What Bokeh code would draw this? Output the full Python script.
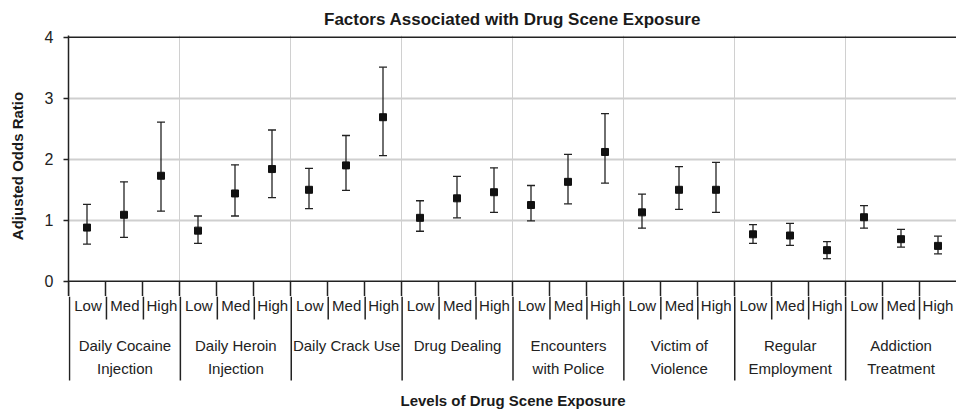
from bokeh.plotting import figure
from bokeh.models import Range1d, FixedTicker, Grid, Span, ColumnDataSource, Whisker, TeeHead
from bokeh.layouts import column
from bokeh.core.properties import value
from bokeh.embed import file_html
from bokeh.resources import INLINE

# ---------------- data ----------------
groups_line1 = ["Daily Cocaine", "Daily Heroin", "Daily Crack Use", "Drug Dealing",
                "Encounters", "Victim of", "Regular", "Addiction"]
groups_line2 = ["Injection", "Injection", "", "", "with Police", "Violence",
                "Employment", "Treatment"]
levels = ["Low", "Med", "High"]

odds = [0.88, 1.09, 1.73,  0.83, 1.44, 1.84,  1.50, 1.90, 2.69,  1.04, 1.36, 1.46,
        1.25, 1.63, 2.12,  1.13, 1.50, 1.50,  0.77, 0.75, 0.51,  1.05, 0.69, 0.58]
upper = [1.26, 1.63, 2.61,  1.07, 1.91, 2.48,  1.85, 2.39, 3.51,  1.32, 1.72, 1.86,
         1.57, 2.08, 2.75,  1.43, 1.88, 1.95,  0.93, 0.95, 0.65,  1.24, 0.85, 0.74]
lower = [0.61, 0.72, 1.15,  0.62, 1.07, 1.37,  1.19, 1.49, 2.06,  0.82, 1.04, 1.13,
         0.99, 1.27, 1.61,  0.87, 1.18, 1.13,  0.62, 0.59, 0.37,  0.87, 0.56, 0.45]
y_ticks = [0, 1, 2, 3, 4]

FONT = "Liberation Sans"
DARK = "#222222"
TXT = "#222222"

n_lv = len(levels)
n_grp = len(groups_line1)
n_cat = n_grp * n_lv
xs = [i + 0.5 for i in range(n_cat)]
sub_x = [i for i in range(n_cat) if i % n_lv != 0]
grp_x = list(range(0, n_cat, n_lv))
gx = [g * n_lv + n_lv / 2 for g in range(n_grp)]

W = 956
LEFT = 68
TOP_BORDER = 35
FRAME_H = 261
Y_LO, Y_HI = -0.25, 4.03
TOP_H = TOP_BORDER + FRAME_H
BOT_H = 412 - TOP_H

# ---------------- main plot ----------------
p = figure(width=W, height=TOP_H, x_range=Range1d(0, n_cat), y_range=Range1d(Y_LO, Y_HI),
           output_backend="svg", toolbar_location=None, x_axis_location=None,
           min_border_left=LEFT, min_border_right=0, min_border_top=TOP_BORDER,
           min_border_bottom=0)
p.outline_line_color = None

p.title.text = "Factors Associated with Drug Scene Exposure"
p.title.align = "center"
p.title.text_font = FONT
p.title.text_font_size = "17px"
p.title.text_font_style = "bold"
p.title.text_color = "#1a1a1a"
p.title.standoff = 14

yax = p.yaxis[0]
yax.ticker = FixedTicker(ticks=y_ticks)
yax.axis_line_color = DARK
yax.axis_line_width = 1.5
yax.major_tick_line_color = DARK
yax.major_tick_line_width = 1.3
yax.major_tick_in = 0
yax.major_tick_out = 5
yax.minor_tick_line_color = None
yax.major_label_text_font = FONT
yax.major_label_text_font_size = "16px"
yax.major_label_text_color = TXT
yax.major_label_standoff = 10
yax.axis_label = "Adjusted Odds Ratio"
yax.axis_label_text_font = FONT
yax.axis_label_text_font_size = "15px"
yax.axis_label_text_font_style = "bold"
yax.axis_label_text_color = "#1a1a1a"
yax.axis_label_standoff = 16

p.ygrid.ticker = FixedTicker(ticks=y_ticks[1:-1])
p.ygrid.grid_line_color = "#cfcfcf"
p.ygrid.grid_line_width = 2
p.xgrid.visible = False
p.add_layout(Grid(dimension=0, ticker=FixedTicker(ticks=grp_x[1:]),
                  grid_line_color="#d0d0d0", grid_line_width=1))

p.add_layout(Span(location=y_ticks[-1], dimension="width", line_color=DARK, line_width=1.5))
p.add_layout(Span(location=y_ticks[0], dimension="width", line_color=DARK, line_width=1.5))

# category divider lines, top part (below the zero line)
p.segment(x0=sub_x + grp_x, x1=sub_x + grp_x,
          y0=[Y_LO] * (len(sub_x) + len(grp_x)), y1=[y_ticks[0]] * (len(sub_x) + len(grp_x)),
          line_color=DARK, line_width=1.5)

src = ColumnDataSource(dict(x=xs, y=odds, upper=upper, lower=lower))
p.add_layout(Whisker(base="x", upper="upper", lower="lower", source=src,
                     line_color=DARK, line_width=1.3,
                     upper_head=TeeHead(size=8, line_color=DARK, line_width=1.3),
                     lower_head=TeeHead(size=8, line_color=DARK, line_width=1.3)))
p.scatter("x", "y", source=src, marker="square", size=7, fill_color="#111111",
          line_color="#111111")

# ---------------- category axis (below) ----------------
px_per_cat = (W - LEFT) / n_cat
pad = 1.0 / px_per_cat  # one pixel of room so the leftmost line is not clipped
q = figure(width=W, height=BOT_H, x_range=Range1d(-pad, n_cat), y_range=Range1d(BOT_H, 0),
           output_backend="svg", toolbar_location=None,
           x_axis_location=None, y_axis_location=None,
           min_border_left=LEFT - 1, min_border_right=0, min_border_top=0, min_border_bottom=0)
q.outline_line_color = None
q.xgrid.visible = False
q.ygrid.visible = False

q.segment(x0=sub_x, x1=sub_x, y0=[0] * len(sub_x), y1=[23] * len(sub_x),
          line_color=DARK, line_width=1.5)
q.segment(x0=grp_x, x1=grp_x, y0=[0] * len(grp_x), y1=[84] * len(grp_x),
          line_color=DARK, line_width=1.5)

q.text(x=xs, y=[9] * n_cat, text=levels * n_grp,
       text_font=value(FONT), text_font_size="15px", text_color=TXT,
       text_align="center", text_baseline="middle")
q.text(x=gx, y=[49] * n_grp, text=groups_line1,
       text_font=value(FONT), text_font_size="15px", text_color=TXT,
       text_align="center", text_baseline="middle")
q.text(x=gx, y=[72] * n_grp, text=groups_line2,
       text_font=value(FONT), text_font_size="15px", text_color=TXT,
       text_align="center", text_baseline="middle")
q.text(x=[n_cat / 2], y=[104], text=["Levels of Drug Scene Exposure"],
       text_font=value(FONT), text_font_size="15px", text_font_style="bold",
       text_color="#1a1a1a", text_align="center", text_baseline="middle")

layout = column(p, q, spacing=0)
open("out.html", "w").write(file_html(layout, INLINE))
